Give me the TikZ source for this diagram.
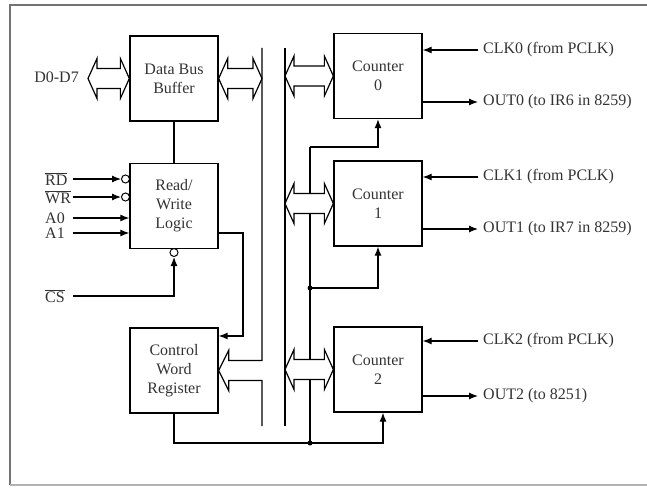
\documentclass[tikz,border=0pt]{standalone}
\usepackage{fontspec}
\setmainfont{Liberation Serif}
\usetikzlibrary{arrows.meta,calc}

% hollow double arrow between two points on one level
\newcommand{\dblarrow}[2]{%
  \draw[hol] (#1) -- ++(9,-20) -- ++(0,10) -- ($(#2)+(-9,-10)$) -- ++(0,-10)
    -- (#2) -- ++(-9,20) -- ++(0,-10) -- ($(#1)+(9,10)$) -- ++(0,10) -- cycle;}

\begin{document}
\begin{tikzpicture}[x=1pt,y=-1pt,font=\fontsize{16}{19}\selectfont,
  blk/.style={draw,line width=1.3pt,minimum width=88pt,minimum height=85pt,
    align=center,text=black!80},
  wire/.style={line width=1.2pt},
  sig/.style={wire,-{Latex[length=9pt,width=7pt]}},
  bub/.style={draw,circle,line width=1pt,inner sep=0pt,minimum size=8pt,fill=white},
  hol/.style={draw,line width=1.2pt,fill=white},
  lbl/.style={anchor=west,inner sep=0pt,text=black!80},
  rlbl/.style={anchor=west,inner sep=0pt,inner xsep=5pt,text=black!80}]
\useasboundingbox (0,0) rectangle (647,487);
% frame
\draw[black!55,line width=2.5pt] (647,5) -- (10,5) -- (10,485);
\draw[black!30,line width=1.5pt] (10,485) -- (647,485);

% blocks
\node[blk] (dbb) at (174,78.5) {Data Bus\\Buffer};
\node[blk] (rwl) at (174,206) {Read/\\Write\\Logic};
\node[blk] (cwr) at (174,370.5) {Control\\Word\\Register};
\node[blk] (cnt0) at (378,76) {Counter\\0};
\node[blk] (cnt1) at (378,203.5) {Counter\\1};
\node[blk] (cnt2) at (378,369.5) {Counter\\2};

% internal bus
\coordinate (busl) at (262,48);
\coordinate (busr) at (285,48);
\draw[wire] (busl) |- ($(cwr.east)+(10,-10)$) -- ++(0,-10) -- (cwr.east)
  -- ++(10,20) -- ++(0,-10) -| (262,426);
\draw[wire] (busr) -- (285,426);

% control lines to the counters
\coordinate (ctl) at (310,147);
\coordinate (ctlm) at (310,288);
\coordinate (ctlb) at (310,443);
\draw[wire] (ctl) -- (ctlb);
\draw[sig] (ctl) -| (cnt0.south);
\draw[sig] (ctlm) -| (cnt1.south);
\draw[sig] (cwr.south) |- (ctlb) -| ($(cnt2.south)+(5,0)$);
\fill (ctlm) circle (2.5pt);
\fill (ctlb) circle (2.5pt);

% bus arrows
\coordinate (dq) at (88,0);
\node[lbl,anchor=east] (dbus) at (79,77) {D0-D7};
\dblarrow{dbb.west -| dq}{dbb.west}
\dblarrow{dbb.east}{dbb.east -| busl}
\dblarrow{cnt0.west -| busr}{cnt0.west}
\dblarrow{cnt1.west -| busr}{cnt1.west}
\dblarrow{cnt2.west -| busr}{cnt2.west}

% read/write logic
\draw[wire] (dbb.south) -- (rwl.north);
\coordinate (rwo) at (243,233);
\coordinate (rwc) at (243,336);
\draw[sig] (rwl.east |- rwo) -- (rwo) -- (rwc) -- (cwr.east |- rwc);

% control inputs
\coordinate (in0) at (73,0);
\node[bub] (rdb) at (125.5,179) {};
\node[bub] (wrb) at (125.5,197) {};
\node[bub] (csb) at (174,252.5) {};
\node[lbl] (rd) at (45,179) {$\overline{\hbox{RD}}$};
\node[lbl] (wr) at (45,197) {$\overline{\hbox{WR}}$};
\node[lbl] (a0) at (45,218) {A0};
\node[lbl] (a1) at (45,233) {A1};
\node[lbl] (cs) at (45,296) {$\overline{\hbox{CS}}$};
\draw[sig] (rd -| in0) -- (rdb);
\draw[sig] (wr -| in0) -- (wrb);
\draw[sig] (a0 -| in0) -- (a0 -| rwl.west);
\draw[sig] (a1 -| in0) -- (a1 -| rwl.west);
\draw[sig] (cs -| in0) -| (csb);

% clocks and outputs
\node[rlbl] (clk0) at (478,50) {CLK0 (from PCLK)};
\node[rlbl] (out0) at (478,102) {OUT0 (to IR6 in 8259)};
\node[rlbl] (clk1) at (478,177) {CLK1 (from PCLK)};
\node[rlbl] (out1) at (478,229) {OUT1 (to IR7 in 8259)};
\node[rlbl] (clk2) at (478,341) {CLK2 (from PCLK)};
\node[rlbl] (out2) at (478,396) {OUT2 (to 8251)};
\draw[sig] (clk0.west) -- (clk0 -| cnt0.east);
\draw[sig] (out0 -| cnt0.east) -- (out0.west);
\draw[sig] (clk1.west) -- (clk1 -| cnt1.east);
\draw[sig] (out1 -| cnt1.east) -- (out1.west);
\draw[sig] (clk2.west) -- (clk2 -| cnt2.east);
\draw[sig] (out2 -| cnt2.east) -- (out2.west);
\end{tikzpicture}
\end{document}
